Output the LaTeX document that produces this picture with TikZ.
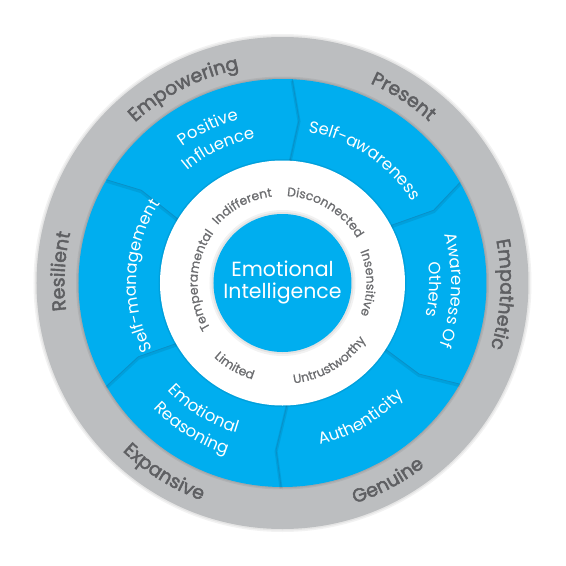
\documentclass[tikz,border=0pt]{standalone}
\usepackage{fontspec}
\setmainfont{Poppins}
\newfontfamily\grayfam[FakeBold=2.2]{Poppins}
\newfontfamily\ringfam[FakeBold=0.8]{Poppins}
\usetikzlibrary{decorations.text}
\definecolor{eiblue}{HTML}{00AEEF}
\definecolor{ringgray}{HTML}{BCBEC0}
\definecolor{txtgray}{HTML}{6D6E71}
\definecolor{darkgray}{HTML}{5E5F62}
\definecolor{edgeblue}{HTML}{0A8FC7}
% clockwise arc text (letter tops outward)
\newcommand{\cwtext}[5]{%
  \path[decorate,decoration={text along path,text align=center,text color=#4,
    text={|#3|#5}}] ({#1+75}:#2pt) arc[start angle={#1+75},end angle={#1-75},radius=#2pt];}
% counter-clockwise arc text (letter tops inward)
\newcommand{\ccwtext}[5]{%
  \path[decorate,decoration={text along path,text align=center,text color=#4,
    text={|#3|#5}}] ({#1-75}:#2pt) arc[start angle={#1-75},end angle={#1+75},radius=#2pt];}
\newcommand{\grayfnt}{\grayfam\fontsize{19}{20}\selectfont}
\newcommand{\bluefnt}{\fontsize{16.5}{18}\selectfont}
\newcommand{\whitefnt}{\ringfam\fontsize{12.4}{14}\selectfont}
\tikzset{
  edgeline/.style={draw=edgeblue,line width=0.7pt,line join=round},
  edgeshadow/.style={draw=black,opacity=0.08,line width=3pt,line join=round},
}
\begin{document}
\begin{tikzpicture}[x=1pt,y=1pt]
\useasboundingbox (-282.5,-283) rectangle (283.5,283);
\fill[white] (-282.5,-283) rectangle (283.5,283);
% soft outer shadow
\fill[black,opacity=0.05] (0,0) circle[radius=249pt];
\fill[black,opacity=0.05] (0,0) circle[radius=247.5pt];
% gray ring
\fill[ringgray] (0,0) circle[radius=246pt];
\fill[black,opacity=0.06] (0,0) circle[radius=206.5pt];
\fill[black,opacity=0.06] (0,0) circle[radius=205.2pt];
% blue ring
\fill[eiblue] (0,0) circle[radius=204pt];
% segment boundaries
\foreach \ao/\an/\rn/\ai in {87.3/84.2/164/86.5, 29.5/25.7/168/28,
  -29.7/-33.7/164/-32.7, -90.4/-92.2/167/-87.9, 210.4/207.1/162/209.7,
  149.6/146.7/169/148.6}{
  \draw[edgeshadow] ([shift={(0,-1.5)}]\ao:204pt) -- ([shift={(0,-1.5)}]\an:\rn pt) -- ([shift={(0,-1.5)}]\ai:122pt);
  \draw[edgeline] (\ao:204pt) -- (\an:\rn pt) -- (\ai:122pt);
}
% white ring
\fill[black,opacity=0.08] (0,0) circle[radius=124pt];
\fill[white] (0,0) circle[radius=122.5pt];
\fill[black,opacity=0.05] (0,0) circle[radius=73pt];
\fill[black,opacity=0.06] (0,0) circle[radius=71pt];
% central circle
\fill[eiblue] (0,0) circle[radius=69pt];
\node[align=center,text=white,font=\fontsize{20.5}{22}\selectfont,inner sep=0pt] (ei) at (0,1) {Emotional\\Intelligence};
% gray ring texts
\cwtext{117}{218}{\grayfnt}{darkgray}{Empowering}
\cwtext{57}{218}{\grayfnt}{darkgray}{Present}
\cwtext{-3}{218}{\grayfnt}{darkgray}{Empathetic}
\ccwtext{-62}{232}{\grayfnt}{darkgray}{Genuine}
\ccwtext{-122}{232}{\grayfnt}{darkgray}{Expansive}
\cwtext{177}{218}{\grayfnt}{darkgray}{Resilient}
% blue ring texts
\cwtext{115.5}{169}{\bluefnt}{white}{Positive}
\cwtext{115.5}{147}{\bluefnt}{white}{Influence}
\cwtext{56.3}{153}{\bluefnt}{white}{Self-awareness}
\cwtext{-2.5}{169}{\bluefnt}{white}{Awareness Of}
\cwtext{-2.5}{147}{\bluefnt}{white}{Others}
\ccwtext{-60}{166}{\bluefnt}{white}{Authenticity}
\ccwtext{-122}{157}{\bluefnt}{white}{Emotional}
\ccwtext{-122}{180}{\bluefnt}{white}{Reasoning}
\cwtext{177}{146}{\bluefnt}{white}{Self-management}
% white ring texts
\cwtext{117.5}{87}{\whitefnt}{txtgray}{Indifferent}
\cwtext{59}{87}{\whitefnt}{txtgray}{Disconnected}
\cwtext{0}{84}{\whitefnt}{txtgray}{Insensitive}
\ccwtext{-59}{101}{\whitefnt}{txtgray}{Untrustworthy}
\ccwtext{-120}{101}{\whitefnt}{txtgray}{Limited}
\cwtext{178}{85}{\whitefnt}{txtgray}{Temperamental}
\end{tikzpicture}
\end{document}
